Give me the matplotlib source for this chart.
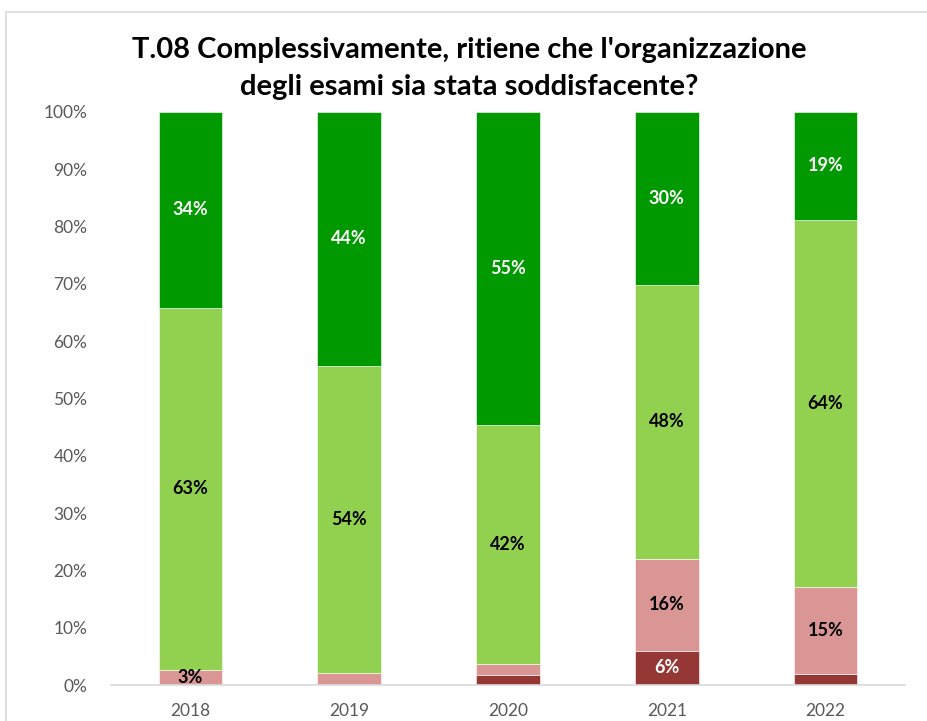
import matplotlib
matplotlib.use("Agg")
import matplotlib.pyplot as plt
from matplotlib.patches import Rectangle
import numpy as np

years = ["2018", "2019", "2020", "2021", "2022"]
# percentages (bottom to top)
dark_red = [0.0, 0.0, 1.8, 6.0, 2.0]
pink = [2.7, 2.1, 1.9, 16.0, 15.1]
light_green = [63.1, 53.6, 41.7, 47.8, 64.1]
dark_green = [34.2, 44.3, 54.6, 30.2, 18.8]

series = [dark_red, pink, light_green, dark_green]
colors = ["#953735", "#DA9694", "#92D050", "#009900"]
label_colors = ["white", "black", "black", "white"]

plt.rcParams['font.family'] = ['Lato', 'DejaVu Sans']

fig = plt.figure(figsize=(9.28, 7.21), dpi=100)
fig.patches.append(Rectangle((6/928, -0.1), 1.2, 1.1 - 12/721,
                             transform=fig.transFigure, fill=False,
                             edgecolor="#D9D9D9", linewidth=1.2))
ax = fig.add_axes([111/928, 1 - 685/721, (905 - 111)/928, (685 - 112)/721])

x = np.arange(len(years))
bottom = np.zeros(len(years))
for vals, c, lc in zip(series, colors, label_colors):
    vals = np.array(vals)
    ax.bar(x, vals, bottom=bottom, width=0.4, color=c, edgecolor="white", linewidth=0.4)
    for xi, v, b in zip(x, vals, bottom):
        if round(v) >= 3:
            ax.text(xi, b + v / 2, f"{round(v)}%", ha="center", va="center",
                    color=lc, fontsize=13, fontweight="bold")
    bottom += vals

ax.set_xlim(-0.5, 4.5)
ax.set_ylim(0, 100)
ax.set_yticks(np.arange(0, 101, 10))
ax.set_yticklabels([f"{t}%" for t in range(0, 101, 10)])
ax.set_xticks(x)
ax.set_xticklabels(years)
ax.tick_params(axis="both", length=0, labelsize=12.5, labelcolor="#595959")
ax.tick_params(axis="y", pad=17)
ax.tick_params(axis="x", pad=13)
for s in ["top", "right", "left"]:
    ax.spines[s].set_visible(False)
ax.spines["bottom"].set_color("#D9D9D9")
ax.spines["bottom"].set_linewidth(1.2)

fig.text(0.506, 1 - 50/721, "T.08 Complessivamente, ritiene che l'organizzazione",
         ha="center", va="center", fontsize=21, fontweight="bold", color="black")
fig.text(0.506, 1 - 87/721, "degli esami sia stata soddisfacente?",
         ha="center", va="center", fontsize=21, fontweight="bold", color="black")

fig.savefig("out.png", dpi=100)
